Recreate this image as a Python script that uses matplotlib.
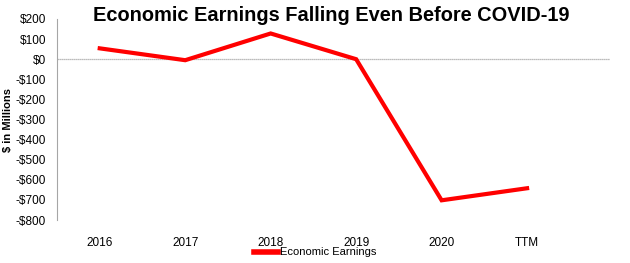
import matplotlib.pyplot as plt

plt.rcParams['font.family'] = ['Liberation Sans', 'DejaVu Sans']

# data
periods = ['2016', '2017', '2018', '2019', '2020', 'TTM']
earnings = [54, -5, 128, 0, -702, -642]
yticks = list(range(-800, 201, 100))


def money(v):
    return f'${v}' if v >= 0 else f'-${-v}'


fig = plt.figure(figsize=(6.3, 2.63), dpi=100)
ax = fig.add_axes([57 / 630, 1 - 220 / 263, (610 - 57) / 630, (220 - 19) / 263])

x = list(range(len(periods)))
ax.plot(x, earnings, color='#ff0000', lw=3, label='Economic Earnings', solid_joinstyle='miter')
ax.axhline(0, color='#a6a6a6', lw=0.9, ls=(0, (1, 0.6)), zorder=0)

ax.set_xlim(-0.5, 5.97)
ax.set_ylim(-800, 200)
ax.set_xticks(x)
ax.set_xticklabels(periods)
ax.set_yticks(yticks)
ax.set_yticklabels([money(v) for v in yticks])
ax.tick_params(length=0, labelsize=8.5)
ax.tick_params(axis='x', pad=12)
ax.tick_params(axis='y', pad=8)

for s in ['top', 'right', 'bottom']:
    ax.spines[s].set_visible(False)
ax.spines['left'].set_color('#a6a6a6')
ax.spines['left'].set_linewidth(0.8)

ax.set_ylabel('$ in Millions', fontsize=8, fontweight='bold', labelpad=2)
fig.text(0.526, 0.94, 'Economic Earnings Falling Even Before COVID-19',
         ha='center', va='center', fontsize=14.4, fontweight='bold')

leg = fig.legend(loc='center', bbox_to_anchor=(0.5, 0.04), frameon=False, fontsize=8,
                 handlelength=2.2, handletextpad=0.1, borderpad=0)
for h in leg.get_lines():
    h.set_linewidth(4)

fig.savefig('out.png', dpi=100)
